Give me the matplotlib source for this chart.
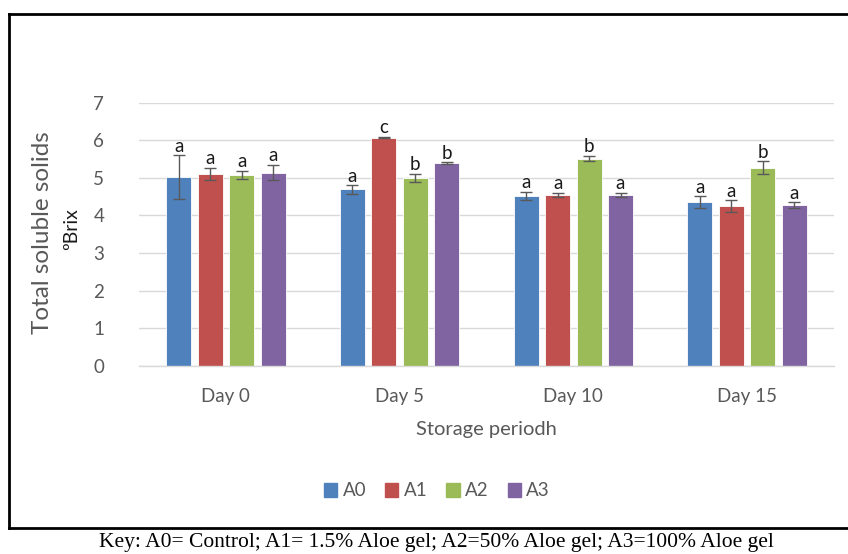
import matplotlib
matplotlib.use("Agg")
import matplotlib.pyplot as plt
import numpy as np
from matplotlib.lines import Line2D

days = ["Day 0", "Day 5", "Day 10", "Day 15"]
treatments = ["A0", "A1", "A2", "A3"]
colors = ["#4F81BD", "#C0504D", "#9BBB59", "#8064A2"]

a0 = [5.02, 4.69, 4.51, 4.36]
a1 = [5.11, 6.07, 4.54, 4.24]
a2 = [5.08, 4.99, 5.51, 5.27]
a3 = [5.14, 5.39, 4.54, 4.27]

a0_err = [0.58, 0.11, 0.11, 0.15]
a1_err = [0.16, 0.02, 0.06, 0.16]
a2_err = [0.11, 0.11, 0.07, 0.17]
a3_err = [0.21, 0.02, 0.06, 0.08]

a0_sig = ["a", "a", "a", "a"]
a1_sig = ["a", "c", "a", "a"]
a2_sig = ["a", "b", "b", "b"]
a3_sig = ["a", "b", "a", "a"]

values = [a0, a1, a2, a3]
errors = [a0_err, a1_err, a2_err, a3_err]
letters = [a0_sig, a1_sig, a2_sig, a3_sig]

W, H = 848, 554
fig = plt.figure(figsize=(W / 100, H / 100), dpi=100)
plt.rcParams["font.family"] = ["Lato", "DejaVu Sans"]

ax_l, ax_r = 139, 834
ax_b, ax_t = 365.7, 102.7
ax = fig.add_axes([ax_l / W, 1 - ax_b / H, (ax_r - ax_l) / W, (ax_b - ax_t) / H])

x = np.arange(len(days))
bw = 0.144
stride = 0.181
for i, (vals, errs, labs, c, name) in enumerate(zip(values, errors, letters, colors, treatments)):
    pos = x + (i - 1.5) * stride
    ax.bar(pos, vals, width=bw, color=c, edgecolor="white", linewidth=0.6, zorder=2, label=name)
    ax.errorbar(pos, vals, yerr=errs, fmt="none", ecolor="#595959", elinewidth=1.0,
                capsize=4.5, capthick=1.0, zorder=3)
    for p, v, e, t in zip(pos, vals, errs, labs):
        ax.text(p, v + e + 0.02, t, ha="center", va="bottom", fontsize=13.5,
                color="#1a1a1a", zorder=4)

ax.set_xlim(-0.5, 3.5)
ax.set_ylim(0, 7)
ax.set_yticks(range(0, 8))
ax.yaxis.grid(True, color="#D9D9D9", linewidth=1.0, zorder=0)
ax.set_axisbelow(True)
for s in ["top", "right", "left"]:
    ax.spines[s].set_visible(False)
ax.spines["bottom"].set_color("#D9D9D9")
ax.spines["bottom"].set_linewidth(1.0)
ax.tick_params(axis="both", length=0, colors="#595959", labelsize=13.5)
ax.tick_params(axis="y", pad=25)
ax.tick_params(axis="x", pad=16)
ax.set_xticks(x)
ax.set_xticklabels(days)

fig.text(43 / W, 1 - 233 / H, "Total soluble solids", rotation=90, ha="center", va="center",
         fontsize=17.5, color="#595959")
fig.text(72 / W, 1 - 229 / H, "ºBrix", rotation=90, ha="center", va="center",
         fontsize=14, color="#1a1a1a")
fig.text(486 / W, 1 - 430 / H, "Storage periodh", ha="center", va="center",
         fontsize=14.5, color="#595959")

handles = [plt.Rectangle((0, 0), 1, 1, color=c) for c in colors]
fig.legend(handles, treatments, loc="center", bbox_to_anchor=(437 / W, 1 - 491 / H),
           ncol=4, frameon=False, fontsize=13.5, labelcolor="#595959",
           handlelength=0.7, handleheight=0.7, handletextpad=0.3, columnspacing=1.0)

# outer frame around the chart
fig.add_artist(Line2D([8.5 / W, 8.5 / W], [1 - 13.5 / H, 1 - 527.5 / H], color="black",
                      linewidth=2.0, transform=fig.transFigure))
fig.add_artist(Line2D([8.5 / W, 1.0], [1 - 13.5 / H, 1 - 13.5 / H], color="black",
                      linewidth=2.0, transform=fig.transFigure))
fig.add_artist(Line2D([8.5 / W, 1.0], [1 - 527.5 / H, 1 - 527.5 / H], color="black",
                      linewidth=2.0, transform=fig.transFigure))

fig.text(436 / W, 1 - 543 / H,
         "Key: A0= Control; A1= 1.5% Aloe gel; A2=50% Aloe gel; A3=100% Aloe gel",
         ha="center", va="center", fontsize=15.5, color="black",
         family=["Liberation Serif", "DejaVu Serif"])

fig.savefig("out.png", dpi=100)
